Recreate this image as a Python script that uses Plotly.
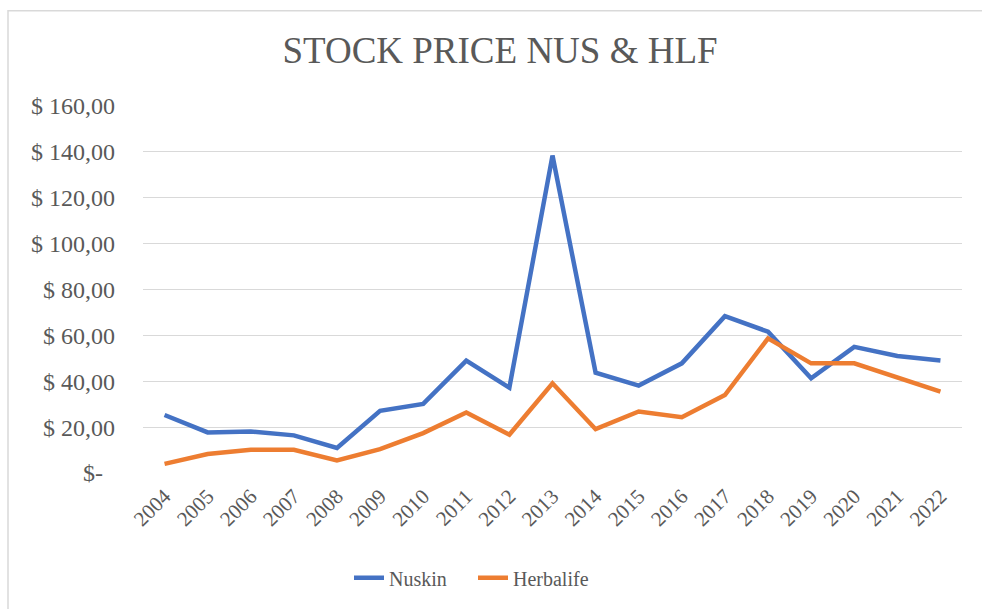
import plotly.graph_objects as go

years = [str(y) for y in range(2004, 2023)]
nuskin = [25.3, 17.7, 18.1, 16.4, 10.9, 27.1, 30.1, 49.0, 37.2, 138.4,
          43.7, 38.1, 47.8, 68.4, 61.6, 41.3, 55.0, 51.0, 49.0]
herbalife = [4.0, 8.3, 10.1, 10.1, 5.5, 10.4, 17.4, 26.4, 16.7, 39.1,
             19.1, 26.8, 24.3, 34.0, 58.7, 47.8, 47.8, 41.7, 35.5]
y_tickvals = [0, 20, 40, 60, 80, 100, 120, 140, 160]
y_ticktext = ["$-\u00a0\u00a0", "$ 20,00", "$ 40,00", "$ 60,00", "$ 80,00",
              "$ 100,00", "$ 120,00", "$ 140,00", "$ 160,00"]

FONT = "Times New Roman, Liberation Serif, DejaVu Serif, serif"
GREY = "#595959"

fig = go.Figure()
fig.add_trace(go.Scatter(x=years, y=nuskin, name="Nuskin", mode="lines",
                         line=dict(color="#4472C4", width=4.5)))
fig.add_trace(go.Scatter(x=years, y=herbalife, name="Herbalife", mode="lines",
                         line=dict(color="#ED7D31", width=4.5)))

L, R, T, B = 143, 20, 106, 136
W, H = 982, 609
pw, ph = W - L - R, H - T - B

fig.update_layout(
    template="none",
    width=W, height=H,
    margin=dict(l=L, r=R, t=T, b=B, autoexpand=False),
    paper_bgcolor="white", plot_bgcolor="white",
    font=dict(family=FONT, color=GREY),
    title=dict(text="STOCK PRICE NUS &amp; HLF", x=500 / W, xanchor="center",
               y=1 - 50 / H, yanchor="middle", automargin=False,
               font=dict(family=FONT, size=37, color=GREY)),
    showlegend=True,
    legend=dict(orientation="h", x=(349 - L) / pw, xanchor="left",
                y=(473.3 - 578) / ph, yanchor="middle",
                entrywidth=79, entrywidthmode="pixels",
                font=dict(family=FONT, size=20, color=GREY),
                bgcolor="rgba(0,0,0,0)"),
    xaxis=dict(type="category", range=[-0.5, 18.5], showgrid=False,
               automargin=False, ticklabelstandoff=6,
               tickangle=-45, tickfont=dict(family=FONT, size=21, color=GREY),
               ticks="", showline=False, zeroline=False),
    yaxis=dict(range=[0, 160], tickvals=y_tickvals, ticktext=y_ticktext,
               automargin=False,
               showgrid=True, gridcolor="#d9d9d9", gridwidth=1,
               zeroline=False, showline=False, ticks="", ticklabelstandoff=27,
               tickfont=dict(family=FONT, size=24, color=GREY)),
    shapes=[dict(type="rect", xref="paper", yref="paper",
                 x0=(8 - L) / pw, x1=1.2, y0=-1.0, y1=(473.3 - 11) / ph,
                 line=dict(color="#d9d9d9", width=1.5), layer="below")],
)

fig.write_html("out.html", config={"displayModeBar": False},
               post_script="document.body.style.margin='0';document.body.style.overflow='hidden';")
